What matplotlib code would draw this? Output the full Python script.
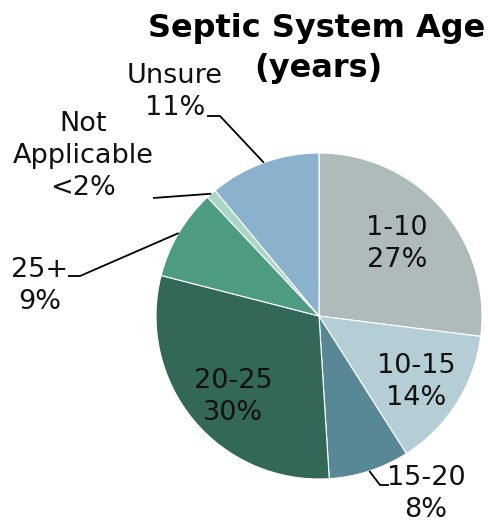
import numpy as np
import matplotlib
matplotlib.use("Agg")
import matplotlib.pyplot as plt

# Septic system age shares (percent), clockwise from 12 o'clock
categories = ["1-10", "10-15", "15-20", "20-25", "25+", "Not\nApplicable", "Unsure"]
shares = [27, 14, 8, 30, 9, 1, 11]
pct_labels = ["27%", "14%", "8%", "30%", "9%", "<2%", "11%"]
colors = ["#AFBBBA", "#B5CDD4", "#588895", "#336858", "#4D9B81", "#AAD6C5", "#8AB2CC"]

W, H = 489, 525
fig = plt.figure(figsize=(W / 100, H / 100), dpi=100)
ax = fig.add_axes([0, 0, 1, 1])

cx, cy, r = 319, H - 316, 163
wedges, _ = ax.pie(shares, colors=colors, startangle=90, counterclock=False,
                   center=(cx, cy), radius=r, frame=True,
                   wedgeprops=dict(edgecolor="white", linewidth=0.8))
ax.set_xlim(0, W)
ax.set_ylim(0, H)
ax.set_aspect("auto")
ax.axis("off")

font = "DejaVu Sans"
fs = 19.5
ls = 33 / (fs * 1.28)   # ~33px between lines


def edge_point(w):
    a = np.deg2rad((w.theta1 + w.theta2) / 2)
    return cx + r * np.cos(a), cy + r * np.sin(a)


def lab(i, x, y):
    ax.text(x, H - y, categories[i] + "\n" + pct_labels[i], ha="center", va="center",
            fontsize=fs, family=font, color="#111111", linespacing=ls)


def leader(points, w):
    ex, ey = edge_point(w)
    xs = [p[0] for p in points] + [ex]
    ys = [H - p[1] for p in points] + [ey]
    ax.plot(xs, ys, color="black", lw=1.3, solid_capstyle="butt")


# inside labels
lab(0, 397, 244)
lab(1, 416, 382)
lab(3, 233, 397)
# outside labels with leader lines
lab(2, 426, 494)
leader([(389, 485), (380, 485)], wedges[2])
lab(4, 40, 286)
leader([(68, 276), (80, 276)], wedges[4])
lab(5, 83, 156)
leader([(153, 198)], wedges[5])
lab(6, 175, 92)
leader([(207, 116), (220, 116)], wedges[6])

ax.text(317, H - 37, "Septic System Age", ha="center", va="baseline",
        fontsize=23, fontweight="bold", family=font, color="black")
ax.text(318, H - 77, "(years)", ha="center", va="baseline",
        fontsize=23, fontweight="bold", family=font, color="black")

fig.savefig("out.png", dpi=100)
